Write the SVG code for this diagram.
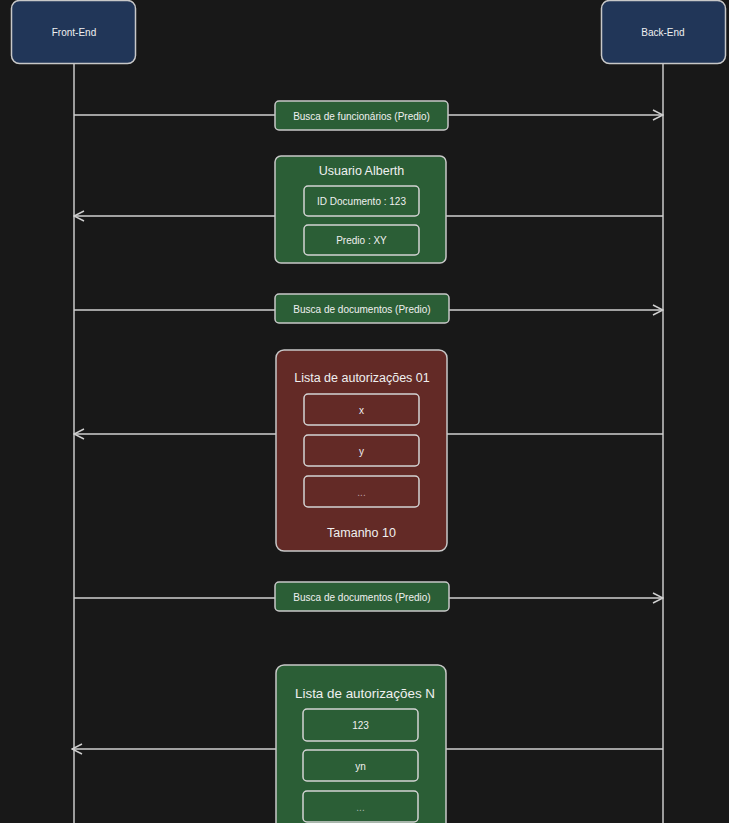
<svg xmlns="http://www.w3.org/2000/svg" width="729" height="823" viewBox="0 0 729 823">
<defs>
<style>
.bg{fill:#181818}
.actor{fill:#213658;stroke:#c8c8c8;stroke-width:1.5}
.green{fill:#2b5e36;stroke:#c8c8c8;stroke-width:1.5}
.red{fill:#632a26;stroke:#c8c8c8;stroke-width:1.5}
.inner{fill:none;stroke:#d4d4d4;stroke-width:1.5}
.life{stroke:#c8c8c8;stroke-width:1.5;fill:none}
.msg{stroke:#cfcfcf;stroke-width:1.5;fill:none}
.t{font-family:"Liberation Sans",Arial,sans-serif;fill:#f0f0f0;text-anchor:middle;dominant-baseline:central}
.s10{font-size:10px}
.s12{font-size:12.5px}
.s13{font-size:13.4px}
</style>
<marker id="arr" viewBox="0 0 12 12" refX="11" refY="6" markerWidth="12" markerHeight="12" markerUnits="userSpaceOnUse" orient="auto-start-reverse">
<path d="M1,1 L11,6 L1,11" fill="none" stroke="#cfcfcf" stroke-width="1.5"/>
</marker>
</defs>
<rect class="bg" x="0" y="0" width="729" height="823"/>
<g id="connectors">
<line class="life" x1="74" y1="64" x2="74" y2="823"/>
<line class="life" x1="663" y1="64" x2="663" y2="823"/>
<line class="msg" x1="74" y1="115" x2="663" y2="115" marker-end="url(#arr)"/>
<line class="msg" x1="663" y1="216" x2="74" y2="216" marker-end="url(#arr)"/>
<line class="msg" x1="74" y1="310" x2="663" y2="310" marker-end="url(#arr)"/>
<line class="msg" x1="663" y1="434" x2="74" y2="434" marker-end="url(#arr)"/>
<line class="msg" x1="74" y1="598" x2="663" y2="598" marker-end="url(#arr)"/>
<line class="msg" x1="663" y1="749" x2="72" y2="749" marker-end="url(#arr)"/>
</g>
<g id="front-end">
<rect class="actor" x="11.5" y="0.5" width="124" height="63" rx="8"/>
<text class="t s10" x="74" y="32">Front-End</text>
</g>
<g id="back-end">
<rect class="actor" x="601.5" y="0.5" width="124" height="63" rx="8"/>
<text class="t s10" x="663" y="32">Back-End</text>
</g>
<g id="busca-funcionarios">
<rect class="green" x="275" y="101" width="173" height="29" rx="4"/>
<text class="t s10" x="361.5" y="116">Busca de funcionários (Predio)</text>
</g>
<g id="usuario-alberth">
<rect class="green" x="275" y="156" width="171" height="107" rx="6"/>
<text class="t s12" x="361.5" y="171">Usuario Alberth</text>
<rect class="inner" x="304" y="186" width="115" height="30" rx="4"/>
<text class="t s10" x="361.5" y="201">ID Documento : 123</text>
<rect class="inner" x="304" y="225" width="115" height="30" rx="4"/>
<text class="t s10" x="361.5" y="240">Predio : XY</text>
</g>
<g id="busca-documentos-1">
<rect class="green" x="275" y="294" width="174" height="29" rx="4"/>
<text class="t s10" x="362" y="309">Busca de documentos (Predio)</text>
</g>
<g id="lista-01">
<rect class="red" x="276" y="350" width="171" height="201" rx="8"/>
<text class="t s12" x="362" y="378">Lista de autorizações 01</text>
<rect class="inner" x="304" y="394" width="115" height="31" rx="4"/>
<text class="t s10" x="361.5" y="410">x</text>
<rect class="inner" x="304" y="435" width="115" height="31" rx="4"/>
<text class="t s10" x="361.5" y="451">y</text>
<rect class="inner" x="304" y="476" width="115" height="31" rx="4"/>
<text class="t s10" x="361.5" y="492" fill-opacity="0.6">...</text>
<text class="t s12" x="361.5" y="533">Tamanho 10</text>
</g>
<g id="busca-documentos-2">
<rect class="green" x="275" y="582" width="174" height="29" rx="4"/>
<text class="t s10" x="362" y="597">Busca de documentos (Predio)</text>
</g>
<g id="lista-n">
<rect class="green" x="276" y="665" width="170" height="170" rx="8"/>
<text class="t s13" x="365" y="693">Lista de autorizações N</text>
<rect class="inner" x="303" y="709" width="115" height="32" rx="4"/>
<text class="t s10" x="360.5" y="725">123</text>
<rect class="inner" x="303" y="750" width="115" height="31" rx="4"/>
<text class="t s10" x="360.5" y="766">yn</text>
<rect class="inner" x="303" y="791" width="115" height="31" rx="4"/>
<text class="t s10" x="360.5" y="807" fill-opacity="0.6">...</text>
</g>
</svg>
